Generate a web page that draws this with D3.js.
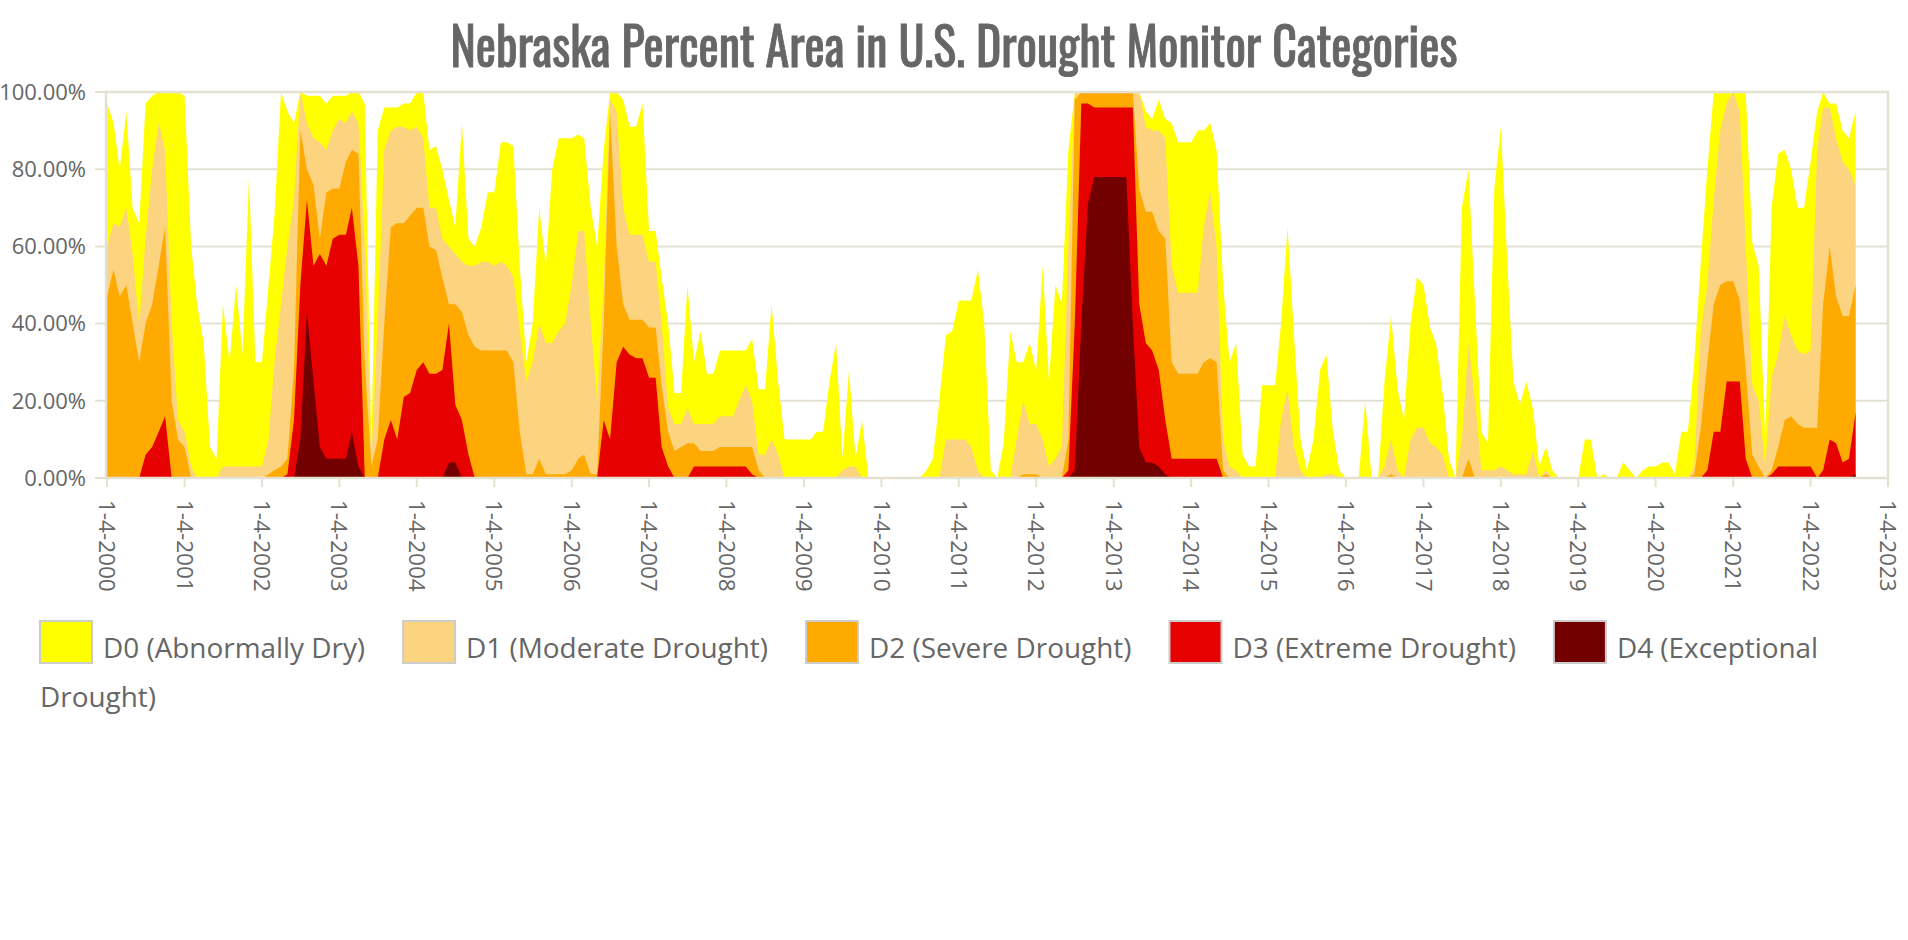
<!DOCTYPE html>
<html>
<head>
<meta charset="utf-8">
<script src="https://cdn.jsdelivr.net/npm/d3@7"></script>
<style>
  body { margin: 0; background: #fff; }
</style>
</head>
<body>
<div id="chart"></div>
<script>
var svgWidth = 1908;
var svgHeight = 940;

var margin = { top: 92, right: 20, bottom: 462, left: 107 };
var plotRight = 1888;
var plotBottom = 478;

// monthly readings (4th of each month), starting 1-4-2000
var firstDate = "2000-01-04";

var seriesNames = ["D0 (Abnormally Dry)", "D1 (Moderate Drought)", "D2 (Severe Drought)",
  "D3 (Extreme Drought)", "D4 (Exceptional Drought)"];
var seriesColors = ["#ffff00", "#fcd37f", "#ffaa00", "#e60000", "#730000"];

var d0 = [
  97, 92, 80, 95, 70, 66, 97, 99, 100, 100,
  100, 100, 99, 60, 45, 35, 8, 5, 45, 30,
  50, 32, 78, 30, 30, 50, 68, 100, 95, 92,
  100, 99, 99, 99, 97, 99, 99, 99, 100, 100,
  97, 8, 90, 96, 96, 96, 97, 97, 100, 100,
  85, 86, 80, 72, 65, 92, 62, 60, 65, 74,
  74, 87, 87, 86, 55, 30, 40, 70, 55, 80,
  88, 88, 88, 89, 88, 70, 60, 85, 100, 100,
  98, 91, 91, 97, 64, 64, 52, 40, 22, 22,
  50, 30, 38, 27, 27, 33, 33, 33, 33, 33,
  36, 23, 23, 45, 25, 10, 10, 10, 10, 10,
  12, 12, 25, 35, 5, 28, 5, 15, 0, 0,
  0, 0, 0, 0, 0, 0, 0, 2, 5, 20,
  37, 38, 46, 46, 46, 54, 40, 2, 0, 9,
  38, 30, 30, 35, 28, 55, 25, 50, 45, 85,
  100, 100, 100, 100, 100, 100, 100, 100, 100, 100,
  100, 95, 93, 98, 93, 92, 87, 87, 87, 90,
  90, 92, 85, 50, 30, 35, 6, 3, 3, 24,
  24, 24, 40, 65, 37, 10, 2, 10, 28, 32,
  12, 2, 0, 0, 0, 20, 0, 0, 25, 42,
  23, 15, 40, 52, 50, 39, 35, 22, 5, 0,
  70, 80, 45, 12, 9, 75, 91, 55, 25, 19,
  25, 18, 3, 8, 2, 0, 0, 0, 0, 10,
  10, 0, 1, 0, 0, 4, 2, 0, 2, 3,
  3, 4, 4, 1, 12, 12, 30, 56, 80, 100,
  100, 100, 100, 100, 100, 61, 55, 10, 70, 84,
  85, 80, 70, 70, 82, 95, 100, 97, 97, 90,
  88, 95
];

var d1 = [
  60, 66, 65, 70, 58, 40, 62, 80, 92, 85,
  40, 15, 12, 3, 0, 0, 0, 0, 3, 3,
  3, 3, 3, 3, 3, 10, 30, 45, 60, 72,
  100, 92, 88, 87, 85, 90, 93, 92, 95, 92,
  60, 5, 40, 85, 90, 91, 91, 90, 91, 88,
  70, 70, 62, 60, 58, 56, 55, 55, 56, 56,
  55, 56, 55, 52, 38, 25, 30, 40, 35, 35,
  38, 40, 50, 64, 64, 40, 20, 50, 98, 95,
  70, 63, 63, 63, 56, 56, 40, 18, 14, 14,
  18, 14, 14, 14, 14, 16, 16, 16, 20, 24,
  20, 6, 6, 10, 6, 0, 0, 0, 0, 0,
  0, 0, 0, 0, 2, 3, 3, 0, 0, 0,
  0, 0, 0, 0, 0, 0, 0, 0, 0, 0,
  10, 10, 10, 10, 8, 2, 0, 0, 0, 0,
  0, 10, 20, 14, 14, 10, 3, 5, 8, 60,
  100, 100, 100, 100, 100, 100, 100, 100, 100, 100,
  100, 91, 90, 90, 88, 55, 48, 48, 48, 48,
  65, 74, 60, 10, 3, 2, 0, 0, 0, 0,
  0, 0, 15, 23, 8, 2, 0, 0, 0, 1,
  1, 0, 0, 0, 0, 0, 0, 0, 3, 10,
  2, 0, 10, 13, 13, 9, 8, 6, 0, 0,
  10, 35, 20, 2, 2, 2, 3, 2, 1, 1,
  1, 7, 0, 2, 0, 0, 0, 0, 0, 0,
  0, 0, 0, 0, 0, 0, 0, 0, 0, 0,
  0, 0, 0, 0, 0, 0, 3, 38, 50, 72,
  90, 97, 100, 95, 60, 24, 20, 3, 26, 32,
  42, 37, 33, 32, 33, 85, 96, 96, 88, 82,
  80, 76
];

var d2 = [
  47, 54, 47, 50, 40, 30, 40, 45, 55, 65,
  20, 10, 8, 0, 0, 0, 0, 0, 0, 0,
  0, 0, 0, 0, 0, 1, 2, 3, 5, 28,
  90, 80, 76, 62, 74, 75, 75, 82, 85, 84,
  30, 3, 10, 40, 65, 66, 66, 68, 70, 70,
  60, 59, 52, 45, 45, 43, 37, 34, 33, 33,
  33, 33, 33, 30, 12, 1, 1, 5, 1, 1,
  1, 1, 2, 5, 6, 1, 1, 40, 95, 60,
  45, 41, 41, 41, 39, 39, 24, 12, 7, 8,
  9, 9, 7, 7, 7, 8, 8, 8, 8, 8,
  8, 2, 0, 0, 0, 0, 0, 0, 0, 0,
  0, 0, 0, 0, 0, 0, 0, 0, 0, 0,
  0, 0, 0, 0, 0, 0, 0, 0, 0, 0,
  0, 0, 0, 0, 0, 0, 0, 0, 0, 0,
  0, 0, 1, 1, 1, 0, 0, 0, 0, 10,
  98, 100, 100, 100, 100, 100, 100, 100, 100, 100,
  75, 69, 69, 64, 62, 30, 27, 27, 27, 27,
  30, 31, 30, 2, 0, 0, 0, 0, 0, 0,
  0, 0, 0, 0, 0, 0, 0, 0, 0, 0,
  0, 0, 0, 0, 0, 0, 0, 0, 0, 1,
  0, 0, 0, 0, 0, 0, 0, 0, 0, 0,
  0, 5, 0, 0, 0, 0, 0, 0, 0, 0,
  0, 0, 0, 1, 0, 0, 0, 0, 0, 0,
  0, 0, 0, 0, 0, 0, 0, 0, 0, 0,
  0, 0, 0, 0, 0, 0, 1, 13, 30, 45,
  50, 51, 51, 46, 28, 6, 3, 0, 2, 8,
  15, 16, 14, 13, 13, 13, 45, 60, 47, 42,
  42, 50
];

var d3v = [
  0, 0, 0, 0, 0, 0, 6, 8, 12, 16,
  0, 0, 0, 0, 0, 0, 0, 0, 0, 0,
  0, 0, 0, 0, 0, 0, 0, 0, 1, 15,
  50, 72, 55, 58, 55, 62, 63, 63, 70, 55,
  0, 0, 0, 10, 15, 10, 21, 22, 28, 30,
  27, 27, 28, 40, 19, 15, 6, 0, 0, 0,
  0, 0, 0, 0, 0, 0, 0, 0, 0, 0,
  0, 0, 0, 0, 0, 0, 0, 15, 10, 30,
  34, 32, 31, 31, 26, 26, 8, 3, 0, 0,
  0, 3, 3, 3, 3, 3, 3, 3, 3, 3,
  1, 0, 0, 0, 0, 0, 0, 0, 0, 0,
  0, 0, 0, 0, 0, 0, 0, 0, 0, 0,
  0, 0, 0, 0, 0, 0, 0, 0, 0, 0,
  0, 0, 0, 0, 0, 0, 0, 0, 0, 0,
  0, 0, 0, 0, 0, 0, 0, 0, 0, 2,
  40, 97, 97, 96, 96, 96, 96, 96, 96, 96,
  45, 35, 33, 28, 15, 5, 5, 5, 5, 5,
  5, 5, 5, 0, 0, 0, 0, 0, 0, 0,
  0, 0, 0, 0, 0, 0, 0, 0, 0, 0,
  0, 0, 0, 0, 0, 0, 0, 0, 0, 0,
  0, 0, 0, 0, 0, 0, 0, 0, 0, 0,
  0, 0, 0, 0, 0, 0, 0, 0, 0, 0,
  0, 0, 0, 0, 0, 0, 0, 0, 0, 0,
  0, 0, 0, 0, 0, 0, 0, 0, 0, 0,
  0, 0, 0, 0, 0, 0, 0, 0, 2, 12,
  12, 25, 25, 25, 5, 0, 0, 0, 1, 3,
  3, 3, 3, 3, 3, 0, 2, 10, 9, 4,
  5, 17
];

var d4 = [
  0, 0, 0, 0, 0, 0, 0, 0, 0, 0,
  0, 0, 0, 0, 0, 0, 0, 0, 0, 0,
  0, 0, 0, 0, 0, 0, 0, 0, 0, 0,
  10, 43, 25, 8, 5, 5, 5, 5, 12, 3,
  0, 0, 0, 0, 0, 0, 0, 0, 0, 0,
  0, 0, 0, 4, 4, 0, 0, 0, 0, 0,
  0, 0, 0, 0, 0, 0, 0, 0, 0, 0,
  0, 0, 0, 0, 0, 0, 0, 0, 0, 0,
  0, 0, 0, 0, 0, 0, 0, 0, 0, 0,
  0, 0, 0, 0, 0, 0, 0, 0, 0, 0,
  0, 0, 0, 0, 0, 0, 0, 0, 0, 0,
  0, 0, 0, 0, 0, 0, 0, 0, 0, 0,
  0, 0, 0, 0, 0, 0, 0, 0, 0, 0,
  0, 0, 0, 0, 0, 0, 0, 0, 0, 0,
  0, 0, 0, 0, 0, 0, 0, 0, 0, 0,
  2, 40, 71, 78, 78, 78, 78, 78, 78, 40,
  8, 4, 4, 3, 1, 0, 0, 0, 0, 0,
  0, 0, 0, 0, 0, 0, 0, 0, 0, 0,
  0, 0, 0, 0, 0, 0, 0, 0, 0, 0,
  0, 0, 0, 0, 0, 0, 0, 0, 0, 0,
  0, 0, 0, 0, 0, 0, 0, 0, 0, 0,
  0, 0, 0, 0, 0, 0, 0, 0, 0, 0,
  0, 0, 0, 0, 0, 0, 0, 0, 0, 0,
  0, 0, 0, 0, 0, 0, 0, 0, 0, 0,
  0, 0, 0, 0, 0, 0, 0, 0, 0, 0,
  0, 0, 0, 0, 0, 0, 0, 0, 0, 0,
  0, 0, 0, 0, 0, 0, 0, 0, 0, 0,
  0, 1
];

var yTicks = [0, 20, 40, 60, 80, 100];
var yTickLabels = ["0.00%", "20.00%", "40.00%", "60.00%", "80.00%", "100.00%"];
var xTickDates = ["2000-01-04", "2001-01-04", "2002-01-04", "2003-01-04", "2004-01-04",
  "2005-01-04", "2006-01-04", "2007-01-04", "2008-01-04", "2009-01-04", "2010-01-04",
  "2011-01-04", "2012-01-04", "2013-01-04", "2014-01-04", "2015-01-04", "2016-01-04",
  "2017-01-04", "2018-01-04", "2019-01-04", "2020-01-04", "2021-01-04", "2022-01-04",
  "2023-01-04"];
var xTickLabels = ["1-4-2000", "1-4-2001", "1-4-2002", "1-4-2003", "1-4-2004", "1-4-2005",
  "1-4-2006", "1-4-2007", "1-4-2008", "1-4-2009", "1-4-2010", "1-4-2011", "1-4-2012",
  "1-4-2013", "1-4-2014", "1-4-2015", "1-4-2016", "1-4-2017", "1-4-2018", "1-4-2019",
  "1-4-2020", "1-4-2021", "1-4-2022", "1-4-2023"];

var gridColor = "#e4e1d3";
var textColor = "#666666";

var parseDate = d3.timeParse("%Y-%m-%d");
var start = parseDate(firstDate);
var allSeries = [d0, d1, d2, d3v, d4];

var svg = d3.select("#chart")
  .append("svg")
  .attr("width", svgWidth)
  .attr("height", svgHeight);

var xScale = d3.scaleTime()
  .domain([parseDate(xTickDates[0]), parseDate(xTickDates[xTickDates.length - 1])])
  .range([margin.left, plotRight]);

var yScale = d3.scaleLinear()
  .domain([0, 100])
  .range([plotBottom, margin.top]);

// gridlines + y ticks
svg.append("g")
  .selectAll("line")
  .data(yTicks)
  .enter()
  .append("line")
  .attr("x1", margin.left - 12)
  .attr("x2", plotRight)
  .attr("y1", d => yScale(d))
  .attr("y2", d => yScale(d))
  .attr("stroke", gridColor)
  .attr("stroke-width", 2);

svg.append("g")
  .selectAll("text")
  .data(yTicks)
  .enter()
  .append("text")
  .attr("x", 86)
  .attr("y", d => yScale(d))
  .attr("dy", "0.35em")
  .attr("text-anchor", "end")
  .attr("font-family", "'Open Sans', sans-serif")
  .attr("font-size", "22px")
  .attr("fill", textColor)
  .text((d, i) => yTickLabels[i]);

// areas, biggest (D0) first
var area = d3.area()
  .x(d => xScale(d.date))
  .y0(yScale(0))
  .y1(d => yScale(d.value));

allSeries.forEach(function(values, k) {
  var pts = values.map(function(v, i) {
    return { date: d3.timeMonth.offset(start, i), value: v };
  });
  svg.append("path")
    .datum(pts)
    .attr("d", area)
    .attr("fill", seriesColors[k])
    .attr("stroke", "none");
});

// plot frame
svg.append("rect")
  .attr("x", margin.left - 1)
  .attr("y", margin.top)
  .attr("width", plotRight - margin.left + 1)
  .attr("height", plotBottom - margin.top)
  .attr("fill", "none")
  .attr("stroke", gridColor)
  .attr("stroke-width", 2.5);

// x ticks
var xAxisG = svg.append("g");
xAxisG.selectAll("line")
  .data(xTickDates)
  .enter()
  .append("line")
  .attr("x1", d => xScale(parseDate(d)))
  .attr("x2", d => xScale(parseDate(d)))
  .attr("y1", plotBottom)
  .attr("y2", plotBottom + 9)
  .attr("stroke", gridColor)
  .attr("stroke-width", 2);

xAxisG.selectAll("text")
  .data(xTickDates)
  .enter()
  .append("text")
  .attr("transform", d => `translate(${xScale(parseDate(d))}, 500) rotate(90)`)
  .attr("dy", "0.35em")
  .attr("text-anchor", "start")
  .attr("font-family", "'Open Sans', sans-serif")
  .attr("font-size", "22.5px")
  .attr("fill", textColor)
  .text((d, i) => xTickLabels[i]);

// title
svg.append("text")
  .attr("transform", "translate(954, 67) scale(1, 1.18)")
  .attr("text-anchor", "middle")
  .attr("font-family", "'Oswald', 'Liberation Sans Narrow', 'DejaVu Sans Condensed', sans-serif")
  .attr("font-size", "45px")
  .attr("fill", textColor)
  .attr("stroke", textColor)
  .attr("stroke-width", 0.8)
  .attr("textLength", 1007)
  .attr("lengthAdjust", "spacingAndGlyphs")
  .text("Nebraska Percent Area in U.S. Drought Monitor Categories");

// legend, flowing like inline text
var legend = svg.append("g");
var lineX = 40;
var lineBase = [658, 707];
var lineIdx = 0;
var wrapLimit = 1870;

seriesNames.forEach(function(name, k) {
  legend.append("rect")
    .attr("x", lineX)
    .attr("y", lineBase[lineIdx] - 37)
    .attr("width", 52)
    .attr("height", 42)
    .attr("fill", seriesColors[k])
    .attr("stroke", "#cccccc")
    .attr("stroke-width", 2);
  var tx = lineX + 63;
  var words = name.split(" ");
  var t = legend.append("text")
    .attr("x", tx)
    .attr("y", lineBase[lineIdx])
    .attr("font-family", "'Open Sans', sans-serif")
    .attr("font-size", "27.9px")
    .attr("fill", textColor);
  var shown = [];
  var rest = [];
  words.forEach(function(w) {
    if (rest.length) { rest.push(w); return; }
    t.text(shown.concat([w]).join(" "));
    if (tx + t.node().getComputedTextLength() > wrapLimit && shown.length) {
      rest.push(w);
    } else {
      shown.push(w);
    }
  });
  t.text(shown.join(" "));
  var endX = tx + t.node().getComputedTextLength();
  if (rest.length) {
    lineIdx += 1;
    var t2 = legend.append("text")
      .attr("x", 40)
      .attr("y", lineBase[lineIdx])
      .attr("font-family", "'Open Sans', sans-serif")
      .attr("font-size", "27.9px")
      .attr("fill", textColor)
      .text(rest.join(" "));
    endX = 40 + t2.node().getComputedTextLength();
  }
  lineX = endX + 38;
});
</script>
</body>
</html>
